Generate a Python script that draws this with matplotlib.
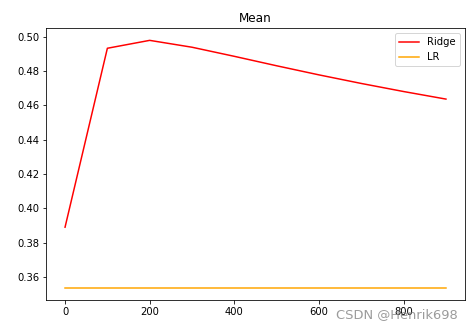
import matplotlib
matplotlib.use('Agg')
import matplotlib.pyplot as plt

alphas = [0, 100, 200, 300, 400, 500, 600, 700, 800, 900]
ridge_mean = [0.389, 0.4932, 0.4978, 0.4938, 0.4885, 0.4830, 0.4777, 0.4727, 0.4680, 0.4636]
lr_mean = [0.3538] * len(alphas)

fig = plt.figure(figsize=(473 / 72, 328 / 72), dpi=72)
ax = fig.add_axes([46 / 473, 28 / 328, 419 / 473, 272 / 328])
ax.plot(alphas, ridge_mean, color='red', label='Ridge')
ax.plot(alphas, lr_mean, color='orange', label='LR')
ax.set_title('Mean')
ax.legend(loc='upper right')
# watermark
fig.text(0.968, 0.022, 'CSDN @Henrik698', ha='right', va='bottom',
         fontsize=13, color='#8a8a8a', alpha=0.85)
fig.savefig('out.png', dpi=72)
